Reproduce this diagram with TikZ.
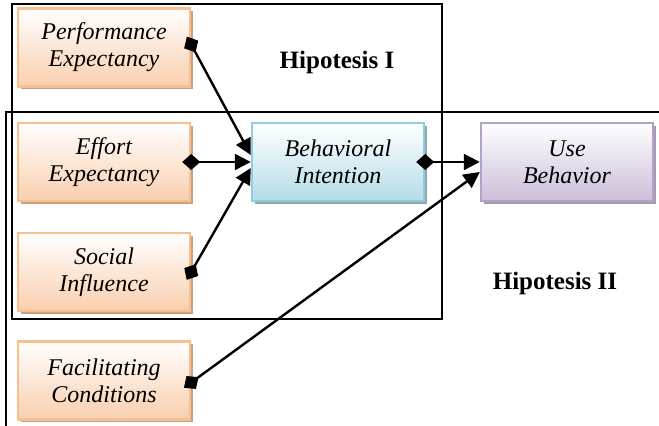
\documentclass[tikz,border=0pt]{standalone}
\usepackage{fontspec}
\setmainfont{Liberation Serif}
\usetikzlibrary{arrows.meta,shadows}
\definecolor{orange_bord}{HTML}{F8C08E}
\definecolor{orange_fond}{HTML}{F9CFAE}
\definecolor{orange_ombre}{HTML}{C9A182}
\definecolor{bleu_bord}{HTML}{92CDDC}
\definecolor{bleu_fond}{HTML}{B4DCE7}
\definecolor{bleu_ombre}{HTML}{8BA7AF}
\definecolor{violet_bord}{HTML}{B3A2C7}
\definecolor{violet_fond}{HTML}{CBBED9}
\definecolor{violet_ombre}{HTML}{A79BB2}

\tikzset{
  facteur/.style={rectangle, minimum width=86pt, minimum height=39pt, line width=1.2pt,
    align=center, font=\fontsize{12}{13.5}\selectfont\itshape},
  orange/.style={facteur, draw=orange_bord, top color=white, bottom color=orange_fond,
    drop shadow={shadow xshift=1.5pt, shadow yshift=-1.5pt, fill=orange_ombre, opacity=1}},
  bleu/.style={facteur, draw=bleu_bord, top color=white, bottom color=bleu_fond,
    drop shadow={shadow xshift=1.5pt, shadow yshift=-1.5pt, fill=bleu_ombre, opacity=1}},
  violet/.style={facteur, draw=violet_bord, top color=white, bottom color=violet_fond,
    drop shadow={shadow xshift=1.5pt, shadow yshift=-1.5pt, fill=violet_ombre, opacity=1}},
  lien/.style={line width=1.2pt, {Diamond[length=9pt,width=8pt]}-{Triangle[length=8pt,width=8pt]},
    shorten <=-4.5pt},
  hipo/.style={font=\fontsize{12.5}{14}\selectfont\bfseries}
}

\begin{document}
\begin{tikzpicture}[x=0.5pt,y=-0.5pt]
        \useasboundingbox (0,0) rectangle (659,426);
        % Cadres des hipotesis
        \draw[line width=0.8pt] (12,4) rectangle (442,319);
        \draw[line width=0.8pt] (659,112) -- (6,112) -- (6,426);
        \node[hipo] (h1) at (337,62) {Hipotesis I};
        \node[hipo] (h2) at (555,283) {Hipotesis II};

        % Variables independantes
        \foreach \nom/\y/\texte in {pe/47.5/{Performance\\Expectancy}, ee/162/{Effort\\Expectancy}, si/272/{Social\\Influence}, fc/380.5/{Facilitating\\Conditions}} {
        \node[orange] (\nom) at (104,\y) {\texte};
        }
        % Variables dependantes
        \node[bleu] (bi) at (338,162) {Behavioral\\Intention};
        \node[violet] (ub) at (567,162) {Use\\Behavior};

        % Liens
        \draw[lien] ([yshift=1.5pt]pe.east) -- ([yshift=3.5pt]bi.west);
        \draw[lien] (ee.east) -- (bi.west);
        \draw[lien] (si.east) -- ([yshift=-3pt]bi.west);
        \draw[lien] (bi.east) -- (ub.west);
        \draw[lien] ([yshift=-1pt]fc.east) -- ([yshift=-5pt]ub.west);
\end{tikzpicture}
\end{document}
